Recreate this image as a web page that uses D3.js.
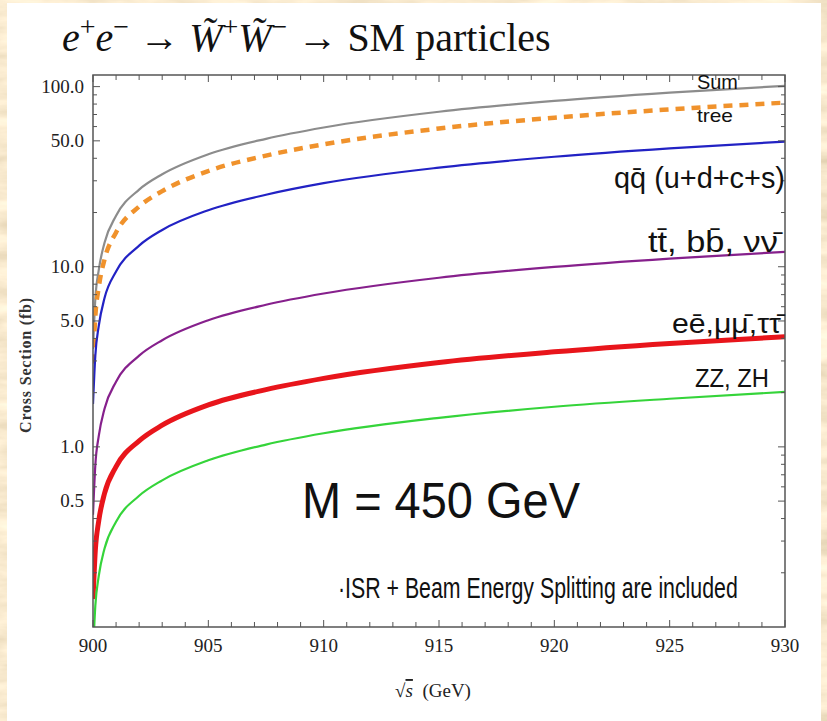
<!DOCTYPE html>
<html>
<head>
<meta charset="utf-8">
<script src="https://cdn.jsdelivr.net/npm/d3@7"></script>
<style>
  body { margin: 0; background: #e9d3a3; }
  svg { display: block; }
  .tick-label { font-family: "Liberation Serif", "DejaVu Serif", serif; font-size: 19px; fill: #222; }
  .curve-label { font-family: "Liberation Sans", Arial, sans-serif; fill: #111; }
</style>
</head>
<body>
<div id="chart"></div>
<script>
// Window and plot box
const width = 827;
const height = 721;
const margin = { top: 75, right: 42, bottom: 94, left: 93 };
const w = width - margin.left - margin.right;
const h = height - margin.top - margin.bottom;

// Data: sqrt(s) in GeV, cross sections in fb
const energies = [900, 900.1, 900.25, 900.5, 901, 902, 903, 905, 907.5, 910, 915, 920, 925, 930];
const sumValues  = [3.5, 6.6, 9.6, 13.6, 19.2, 26.8, 32.6, 42.1, 51.3, 59.3, 72.5, 83.3, 92.6, 101];
const treeValues = [2.9, 5.3, 7.7, 11.0, 15.5, 21.6, 26.3, 34.0, 41.4, 47.8, 58.5, 67.2, 74.7, 81.5];
const qqValues   = [1.73, 3.2, 4.7, 6.7, 9.4, 13.1, 16.0, 20.6, 25.1, 29.1, 35.5, 40.8, 45.4, 49.5];
const ttValues   = [0.42, 0.79, 1.15, 1.63, 2.30, 3.21, 3.91, 5.05, 6.15, 7.10, 8.69, 9.98, 11.1, 12.1];
const eeValues   = [0.143, 0.266, 0.389, 0.552, 0.777, 1.08, 1.32, 1.71, 2.08, 2.40, 2.94, 3.37, 3.75, 4.09];
const zzValues   = [0.071, 0.131, 0.192, 0.273, 0.384, 0.535, 0.652, 0.842, 1.03, 1.19, 1.45, 1.67, 1.85, 2.02];

const xTicks = [900, 905, 910, 915, 920, 925, 930];
const yTicks = [0.5, 1, 5, 10, 50, 100];
const yMinorTicks = [0.2, 0.3, 0.4, 0.5, 0.6, 0.7, 0.8, 0.9, 1, 2, 3, 4, 5, 6, 7, 8, 9, 10,
                     20, 30, 40, 50, 60, 70, 80, 90, 100];

const series = [
  { name: "sum",  values: sumValues,  color: "#8c8c8c", width: 2.2 },
  { name: "tree", values: treeValues, color: "#f0922c", width: 4.5, dash: "9,7" },
  { name: "qq",   values: qqValues,   color: "#2222c4", width: 2.2 },
  { name: "tt",   values: ttValues,   color: "#86208c", width: 2.2 },
  { name: "ee",   values: eeValues,   color: "#e8151b", width: 5 },
  { name: "zz",   values: zzValues,   color: "#35d43a", width: 2.2 }
];

// Scales
let xScale = d3.scaleLinear().domain([900, 930]).range([0, w]);
let yScale = d3.scaleLog().domain([0.1, 116]).range([h, 0]);

let svg = d3.select("#chart")
  .append("svg")
  .attr("width", width)
  .attr("height", height);

// Parchment backdrop with a white sheet on top
let defs = svg.append("defs");
let paper = defs.append("filter")
  .attr("id", "paper")
  .attr("x", 0).attr("y", 0).attr("width", 1).attr("height", 1);
paper.append("feTurbulence")
  .attr("type", "fractalNoise")
  .attr("baseFrequency", "0.015 0.06")
  .attr("numOctaves", 4)
  .attr("seed", 7);
paper.append("feColorMatrix")
  .attr("type", "matrix")
  .attr("values", "0.45 0 0 0 0.72  0.45 0 0 0 0.60  0.45 0 0 0 0.40  0 0 0 0 1");

svg.append("rect")
  .attr("width", width).attr("height", height)
  .attr("fill", "#e9d3a3")
  .attr("filter", "url(#paper)");
svg.append("rect")
  .attr("x", 7).attr("y", 3)
  .attr("width", 814).attr("height", height - 3)
  .attr("fill", "#ffffff");

defs.append("clipPath").attr("id", "plotClip")
  .append("rect").attr("width", w).attr("height", h);

let g = svg.append("g")
  .attr("transform", "translate(" + margin.left + "," + margin.top + ")");

// Curves
let line = d3.line()
  .x((d, i) => xScale(energies[i]))
  .y(d => yScale(d))
  .curve(d3.curveMonotoneX);

g.append("g")
  .attr("clip-path", "url(#plotClip)")
  .selectAll("path")
  .data(series)
  .enter()
  .append("path")
  .attr("fill", "none")
  .attr("stroke", d => d.color)
  .attr("stroke-width", d => d.width)
  .attr("stroke-dasharray", d => d.dash || null)
  .attr("d", d => line(d.values));

// Frame and ticks (inward, on all four sides)
let axisColor = "#555";
g.append("rect")
  .attr("width", w).attr("height", h)
  .attr("fill", "none")
  .attr("stroke", axisColor)
  .attr("stroke-width", 1.5);

let xMinor = d3.range(900, 931);
g.selectAll("line.xtick")
  .data(xMinor)
  .enter()
  .append("line")
  .attr("class", "xtick")
  .attr("x1", d => xScale(d)).attr("x2", d => xScale(d))
  .attr("y1", h).attr("y2", d => h - (d % 5 === 0 ? 7 : 5))
  .attr("stroke", axisColor);
g.selectAll("line.xtickTop")
  .data(xMinor)
  .enter()
  .append("line")
  .attr("class", "xtickTop")
  .attr("x1", d => xScale(d)).attr("x2", d => xScale(d))
  .attr("y1", 0).attr("y2", d => (d % 5 === 0 ? 7 : 5))
  .attr("stroke", axisColor);

g.selectAll("line.ytick")
  .data(yMinorTicks)
  .enter()
  .append("line")
  .attr("class", "ytick")
  .attr("x1", 0).attr("x2", d => (yTicks.includes(d) ? 7 : 4))
  .attr("y1", d => yScale(d)).attr("y2", d => yScale(d))
  .attr("stroke", axisColor);
g.selectAll("line.ytickRight")
  .data(yMinorTicks)
  .enter()
  .append("line")
  .attr("class", "ytickRight")
  .attr("x1", w).attr("x2", d => w - (yTicks.includes(d) ? 7 : 4))
  .attr("y1", d => yScale(d)).attr("y2", d => yScale(d))
  .attr("stroke", axisColor);

// Tick labels
g.selectAll("text.xlabel")
  .data(xTicks)
  .enter()
  .append("text")
  .attr("class", "tick-label")
  .attr("x", d => xScale(d))
  .attr("y", h + 25)
  .attr("text-anchor", "middle")
  .text(d => d);

g.selectAll("text.ylabel")
  .data(yTicks)
  .enter()
  .append("text")
  .attr("class", "tick-label")
  .attr("x", -9)
  .attr("y", d => yScale(d) + 6)
  .attr("text-anchor", "end")
  .text(d3.format(".1f"));

// Axis titles
g.append("text")
  .attr("transform", "translate(" + (-62) + "," + (h / 2 + 14) + ") rotate(-90)")
  .attr("text-anchor", "middle")
  .style("font-family", "'Liberation Serif', serif")
  .style("font-weight", "bold")
  .style("font-size", "16px")
  .style("letter-spacing", "0.8px")
  .attr("fill", "#333")
  .text("Cross Section (fb)");

let xTitle = g.append("text")
  .attr("x", w / 2 - 6)
  .attr("y", h + 70)
  .attr("text-anchor", "middle")
  .style("font-family", "'Liberation Serif', serif")
  .style("font-size", "19px")
  .attr("fill", "#222");
xTitle.append("tspan").text("\u221A");
xTitle.append("tspan").style("font-style", "italic").style("text-decoration", "overline").text("s");
xTitle.append("tspan").text("\u2002(GeV)");

// Chart title
let title = svg.append("text")
  .attr("x", 62)
  .attr("y", 51)
  .style("font-family", "'Liberation Serif', serif")
  .style("font-size", "40px")
  .attr("fill", "#111");
title.append("tspan").style("font-style", "italic").text("e");
title.append("tspan").attr("dy", -15).style("font-size", "28px").text("+");
title.append("tspan").attr("dy", 15).style("font-style", "italic").text("e");
title.append("tspan").attr("dy", -15).style("font-size", "28px").text("\u2212");
title.append("tspan").attr("dy", 15).text(" \u2192 ");
title.append("tspan").style("font-style", "italic").text("W\u0303");
title.append("tspan").attr("dy", -15).style("font-size", "28px").text("+");
title.append("tspan").attr("dy", 15).style("font-style", "italic").text("W\u0303");
title.append("tspan").attr("dy", -15).style("font-size", "28px").text("\u2212");
title.append("tspan").attr("dy", 15).text(" \u2192 SM particles");

// Curve labels: drawn at their font size, then squeezed sideways to the width seen in the picture
const labels = [
  { text: "Sum", x: 697, y: 89, size: 20, len: 41 },
  { text: "tree", x: 697, y: 122, size: 19, len: 36 },
  { text: "qq\u0304 (u+d+c+s)", x: 614, y: 188, size: 29, len: 171 },
  { text: "tt\u0304, bb\u0304, \u03BD\u03BD\u0304", x: 648, y: 252, size: 29, len: 130 },
  { text: "ee\u0304,\u03BC\u03BC\u0304,\u03C4\u03C4\u0304", x: 672, y: 333, size: 28, len: 109 },
  { text: "ZZ, ZH", x: 695, y: 387, size: 25, len: 74 },
  { text: "M = 450 GeV", x: 302, y: 518, size: 49, len: 278 },
  { text: "\u00B7ISR + Beam Energy Splitting are included", x: 338, y: 598, size: 29, len: 400 }
];

svg.selectAll("text.curve-label")
  .data(labels)
  .enter()
  .append("text")
  .attr("class", "curve-label")
  .style("font-size", d => d.size + "px")
  .text(d => d.text)
  .attr("transform", function(d) {
    let natural = this.getComputedTextLength();
    return "translate(" + d.x + "," + d.y + ") scale(" + (d.len / natural) + ",1)";
  });
</script>
</body>
</html>
